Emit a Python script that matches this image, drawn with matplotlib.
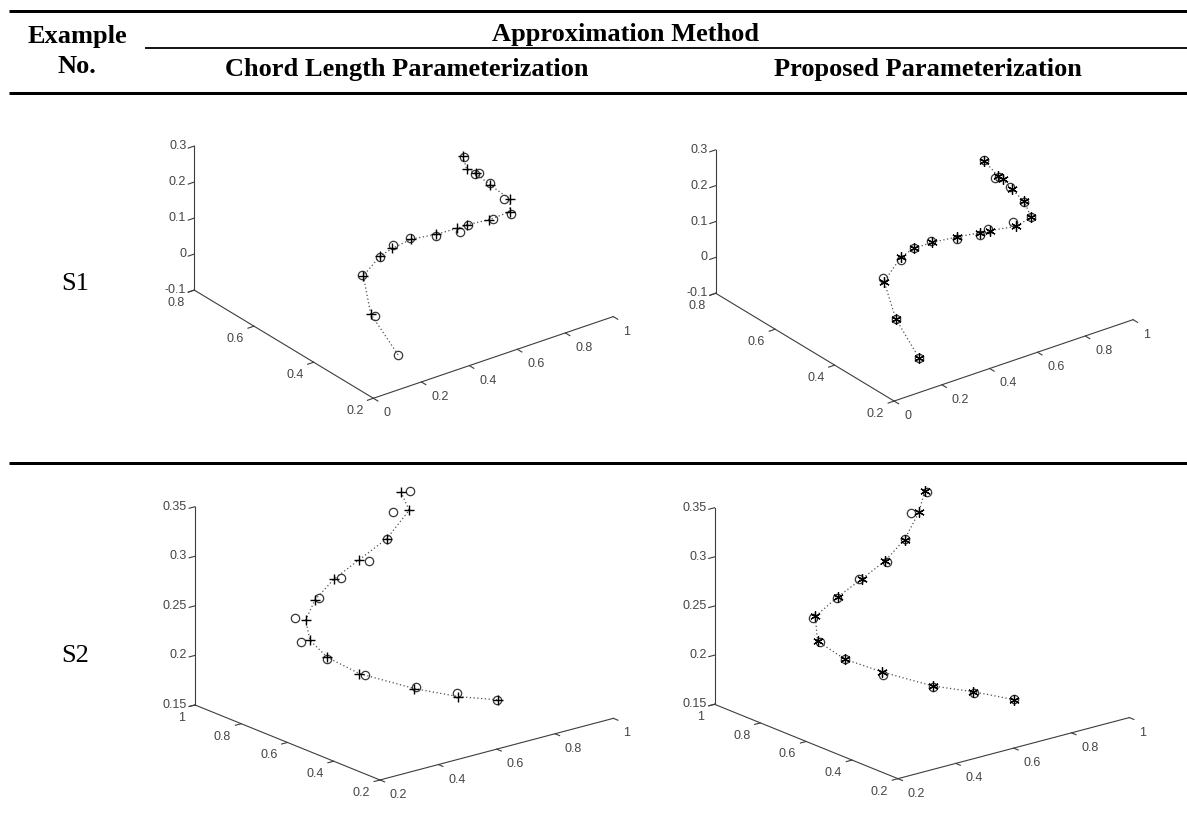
import numpy as np
import matplotlib
matplotlib.use("Agg")
import matplotlib.pyplot as plt

W_PX, H_PX, DPI = 1187, 838, 100

# ---------------- Example S1 ----------------
# data points (circles)
s1_data_x = [0.886, 0.903, 0.889, 0.905, 0.936, 0.933, 0.829, 0.695, 0.632, 0.504, 0.364, 0.263, 0.181, 0.075, 0.098, 0.166]
s1_data_y = [0.610, 0.586, 0.562, 0.538, 0.514, 0.490, 0.466, 0.442, 0.418, 0.394, 0.370, 0.346, 0.322, 0.298, 0.274, 0.250]
s1_data_z = [0.165, 0.125, 0.142, 0.123, 0.084, 0.056, 0.077, 0.101, 0.110, 0.140, 0.178, 0.194, 0.191, 0.177, 0.069, -0.043]
# chord length parameterization (+)
s1_chord_x = [0.883, 0.869, 0.877, 0.906, 0.960, 0.930, 0.814, 0.690, 0.621, 0.503, 0.368, 0.261, 0.180, 0.080, 0.081]
s1_chord_y = [0.610, 0.586, 0.562, 0.538, 0.514, 0.490, 0.466, 0.442, 0.418, 0.394, 0.370, 0.346, 0.322, 0.298, 0.274]
s1_chord_z = [0.167, 0.146, 0.145, 0.118, 0.078, 0.062, 0.078, 0.104, 0.122, 0.144, 0.173, 0.184, 0.193, 0.173, 0.079]
# proposed parameterization (*)
s1_prop_x = [0.888, 0.915, 0.906, 0.912, 0.934, 0.935, 0.840, 0.701, 0.632, 0.503, 0.371, 0.265, 0.180, 0.080, 0.099, 0.166]
s1_prop_y = [0.610, 0.586, 0.562, 0.538, 0.514, 0.490, 0.466, 0.442, 0.418, 0.394, 0.370, 0.346, 0.322, 0.298, 0.274, 0.250]
s1_prop_z = [0.163, 0.126, 0.132, 0.115, 0.088, 0.055, 0.063, 0.095, 0.117, 0.146, 0.173, 0.193, 0.199, 0.166, 0.070, -0.042]

# ---------------- Example S2 ----------------
s2_data_x = [0.896, 0.800, 0.740, 0.639, 0.502, 0.387, 0.264, 0.248, 0.296, 0.385, 0.521, 0.621, 0.721]
s2_data_y = [0.95, 0.90, 0.85, 0.80, 0.75, 0.70, 0.65, 0.60, 0.55, 0.50, 0.45, 0.40, 0.35]
s2_data_z = [0.317, 0.308, 0.290, 0.280, 0.278, 0.272, 0.266, 0.248, 0.231, 0.213, 0.195, 0.186, 0.176]
s2_chord_x = [0.866, 0.855, 0.738, 0.604, 0.478, 0.374, 0.302, 0.277, 0.297, 0.367, 0.516, 0.627, 0.723]
s2_chord_y = [0.95, 0.90, 0.85, 0.80, 0.75, 0.70, 0.65, 0.60, 0.55, 0.50, 0.45, 0.40, 0.35]
s2_chord_z = [0.318, 0.305, 0.290, 0.284, 0.279, 0.271, 0.261, 0.247, 0.233, 0.216, 0.194, 0.182, 0.176]
s2_prop_x = [0.887, 0.827, 0.738, 0.630, 0.510, 0.388, 0.271, 0.239, 0.295, 0.383, 0.518, 0.619, 0.719]
s2_prop_y = [0.95, 0.90, 0.85, 0.80, 0.75, 0.70, 0.65, 0.60, 0.55, 0.50, 0.45, 0.40, 0.35]
s2_prop_z = [0.318, 0.306, 0.290, 0.281, 0.277, 0.273, 0.267, 0.249, 0.231, 0.216, 0.196, 0.187, 0.176]

# ---------------- axis ticks ----------------
s1_xticks = [0, 0.2, 0.4, 0.6, 0.8, 1]
s1_yticks = [0.2, 0.4, 0.6, 0.8]
s1_zticks = [-0.1, 0, 0.1, 0.2, 0.3]
s2_xticks = [0.2, 0.4, 0.6, 0.8, 1]
s2_yticks = [0.2, 0.4, 0.6, 0.8, 1]
s2_zticks = [0.15, 0.2, 0.25, 0.3, 0.35]

# ---------------- table text ----------------
hdr_example = "Example"
hdr_no = "No."
hdr_method = "Approximation Method"
hdr_chord = "Chord Length Parameterization"
hdr_prop = "Proposed Parameterization"
row_labels = ["S1", "S2"]

fig = plt.figure(figsize=(W_PX / DPI, H_PX / DPI), dpi=DPI)
fig.patch.set_facecolor("white")

# background axes in pixel coordinates for the table rules and text
bg = fig.add_axes([0, 0, 1, 1])
bg.set_xlim(0, W_PX)
bg.set_ylim(H_PX, 0)
bg.axis("off")
PX = 72.0 / DPI
bg.plot([9, W_PX], [10.7, 10.7], color="black", lw=3.0 * PX, solid_capstyle="butt")
bg.plot([145, W_PX], [47.7, 47.7], color="black", lw=1.8 * PX, solid_capstyle="butt")
bg.plot([9, W_PX], [93, 93], color="black", lw=3.0 * PX, solid_capstyle="butt")
bg.plot([9, W_PX], [463, 463], color="black", lw=3.0 * PX, solid_capstyle="butt")

HF = dict(family="Liberation Serif", weight="bold", size=19, color="black")
bg.text(77, 43.5, hdr_example, ha="center", va="baseline", **HF)
bg.text(77, 73, hdr_no, ha="center", va="baseline", **HF)
bg.text(625, 41, hdr_method, ha="center", va="baseline", **HF)
bg.text(407, 76, hdr_chord, ha="center", va="baseline", **HF)
bg.text(928, 76, hdr_prop, ha="center", va="baseline", **HF)
RF = dict(family="Liberation Serif", size=19, color="black")
bg.text(75, 284, row_labels[0], ha="center", va="center", **RF)
bg.text(75, 656, row_labels[1], ha="center", va="center", **RF)

AX_COL = "#3d3d3d"
TF = dict(family="Liberation Sans", size=9, color="#454545")

STY_LINE = dict(ls=(0, (1, 2)), color="#505050", lw=0.9, marker="none")
STY_CIRC = dict(ls="none", marker="o", ms=6, mfc="none", mec="#383838", mew=0.9)
STY_PLUS = dict(ls="none", marker="+", ms=7, mec="black", mew=1.0)
STY_STAR = dict(ls="none", marker=(6, 2, 0), ms=7.5, mec="black", mew=0.9)


def fmt(v):
    return f"{v:g}"


def project(ax, pts):
    M = ax.get_proj()
    pts = np.asarray(pts, dtype=float)
    P = np.column_stack([pts, np.ones(len(pts))]).T
    T = M @ P
    xy = (T[:2] / T[3]).T
    return ax.transData.transform(xy)


def panel(view, aspect, lims, ticks, series, targets):
    ax = fig.add_axes([0.1, 0.1, 0.3, 0.3], projection="3d", proj_type="ortho",
                      computed_zorder=False)
    ax.set_axis_off()
    ax.patch.set_alpha(0)
    ax.view_init(elev=view[0], azim=view[1], roll=0)
    ax.set_box_aspect(aspect)
    (x0, x1), (y0, y1), (z0, z1) = lims
    xt, yt, zt = ticks
    lk = dict(color=AX_COL, lw=0.8, clip_on=False)
    ax.plot([x0, x1], [y0, y0], [z0, z0], **lk)
    ax.plot([x0, x0], [y0, y1], [z0, z0], **lk)
    ax.plot([x0, x0], [y1, y1], [z0, z1], **lk)
    tx = 0.025 * (x1 - x0)
    ty = 0.025 * (y1 - y0)
    for v in xt:
        ax.plot([v, v], [y0, y0 - ty], [z0, z0], **lk)
    for v in yt:
        ax.plot([x0, x0 - tx], [v, v], [z0, z0], **lk)
    for v in zt:
        ax.plot([x0, x0 - tx], [y1, y1], [v, v], **lk)
    for (xs, ys, zs, sty) in series:
        ax.plot(xs, ys, zs, clip_on=False, **sty)
    ax.set_xlim(x0, x1)
    ax.set_ylim(y0, y1)
    ax.set_zlim(z0, z1)

    # fit the panel's size and place to the reference frame
    P3 = np.array([t[0] for t in targets], dtype=float)
    T2 = np.array([t[1] for t in targets], dtype=float)
    tgt = np.column_stack([T2[:, 0], H_PX - T2[:, 1]])
    for _ in range(3):
        fig.canvas.draw()
        cur = project(ax, P3)
        s = np.sqrt(((tgt - tgt.mean(0)) ** 2).sum() / ((cur - cur.mean(0)) ** 2).sum())
        bb = ax.get_position()
        org = np.array([bb.x0 * W_PX, bb.y0 * H_PX])
        side = bb.width * W_PX
        new_org = (tgt - s * (cur - org)).mean(0)
        new_side = side * s
        ax.set_position([new_org[0] / W_PX, new_org[1] / H_PX, new_side / W_PX, new_side / H_PX])
    fig.canvas.draw()

    # tick labels, placed from the projected tick positions
    def put(pts, labels, dx, dy, ha):
        disp = project(ax, pts)
        for (px, py), lab in zip(disp, labels):
            bg.text(px + dx, (H_PX - py) + dy, lab, ha=ha, va="center", **TF)

    put([(v, y0, z0) for v in xt], [fmt(v) for v in xt], 10, 15, "left")
    put([(x0, v, z0) for v in yt], [fmt(v) for v in yt], -10, 13, "right")
    put([(x0, y1, v) for v in zt], [fmt(v) for v in zt], -8, 0, "right")
    return ax


S1_VIEW = (26.97, -126.9)
S1_ASPECT = (300.0, 298.3, 161.6)
S1_LIMS = ((0, 1), (0.2, 0.8), (-0.1, 0.3))
S2_VIEW = (19.1, -128.9)
S2_ASPECT = (299.9, 294.6, 209.8)
S2_LIMS = ((0.2, 1), (0.2, 1), (0.15, 0.35))

# S1, chord length
panel(S1_VIEW, S1_ASPECT, S1_LIMS, (s1_xticks, s1_yticks, s1_zticks),
      [(s1_chord_x + s1_data_x[-1:], s1_chord_y + s1_data_y[-1:], s1_chord_z + s1_data_z[-1:], STY_LINE),
       (s1_data_x, s1_data_y, s1_data_z, STY_CIRC),
       (s1_chord_x, s1_chord_y, s1_chord_z, STY_PLUS)],
      [((0, 0.2, -0.1), (373.3, 398.3)), ((0, 0.8, 0.3), (194.3, 146.0)),
       ((0, 0.8, -0.1), (194.3, 290.0)), ((1, 0.2, -0.1), (613.3, 316.7))])
# S1, proposed
panel(S1_VIEW, S1_ASPECT, S1_LIMS, (s1_xticks, s1_yticks, s1_zticks),
      [(s1_prop_x, s1_prop_y, s1_prop_z, STY_LINE),
       (s1_data_x, s1_data_y, s1_data_z, STY_CIRC),
       (s1_prop_x, s1_prop_y, s1_prop_z, STY_STAR)],
      [((0, 0.2, -0.1), (893.3, 401.7)), ((0, 0.8, 0.3), (716.0, 150.0)),
       ((0, 0.8, -0.1), (716.0, 292.0)), ((1, 0.2, -0.1), (1133.3, 320.1))])
# S2, chord length
panel(S2_VIEW, S2_ASPECT, S2_LIMS, (s2_xticks, s2_yticks, s2_zticks),
      [(s2_chord_x, s2_chord_y, s2_chord_z, STY_LINE),
       (s2_data_x, s2_data_y, s2_data_z, STY_CIRC),
       (s2_chord_x, s2_chord_y, s2_chord_z, STY_PLUS)],
      [((0.2, 0.2, 0.15), (380.0, 780.0)), ((0.2, 1, 0.35), (195.0, 506.7)),
       ((0.2, 1, 0.15), (195.0, 705.0)), ((1, 0.2, 0.15), (613.3, 718.3))])
# S2, proposed
panel(S2_VIEW, S2_ASPECT, S2_LIMS, (s2_xticks, s2_yticks, s2_zticks),
      [(s2_prop_x, s2_prop_y, s2_prop_z, STY_LINE),
       (s2_data_x, s2_data_y, s2_data_z, STY_CIRC),
       (s2_prop_x, s2_prop_y, s2_prop_z, STY_STAR)],
      [((0.2, 0.2, 0.15), (898.3, 780.0)), ((0.2, 1, 0.35), (715.0, 506.0)),
       ((0.2, 1, 0.15), (715.0, 703.3)), ((1, 0.2, 0.15), (1128.0, 719.0))])

fig.savefig("out.png", dpi=DPI, facecolor="white")
